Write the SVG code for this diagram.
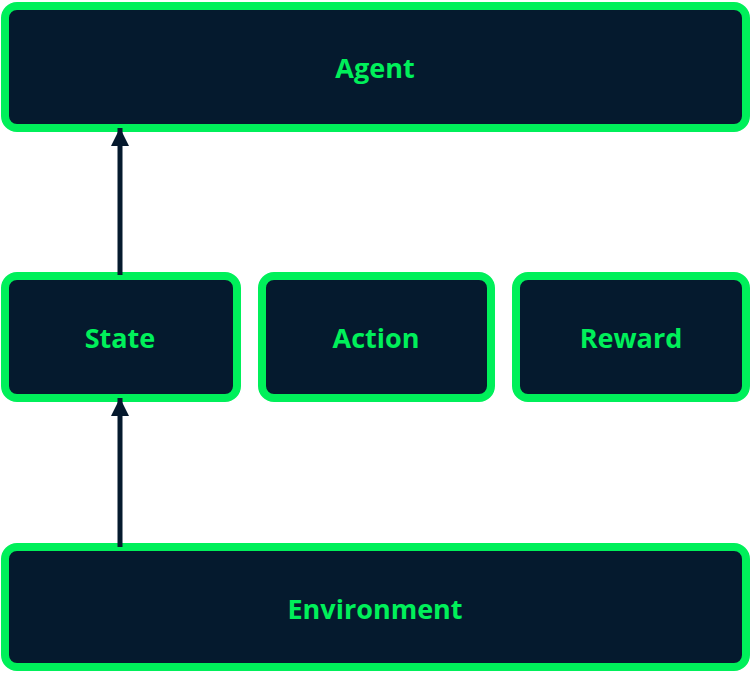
<svg xmlns="http://www.w3.org/2000/svg" width="751" height="673" viewBox="0 0 751 673">
<style>
.n{fill:#051a2e;stroke:#00f05a;stroke-width:8}
.t{fill:#00f05a;font-family:"Open Sans",sans-serif;font-weight:bold;font-size:27px;text-anchor:middle;dominant-baseline:central}
.c{stroke:#051a2e;stroke-width:5;fill:none}
</style>
<defs><marker id="a" markerUnits="userSpaceOnUse" markerWidth="20" markerHeight="20" refX="18" refY="9" orient="auto"><path d="M0,0L18,9L0,18Z" fill="#051a2e"/></marker></defs>
<g id="agent"><rect class="n" x="5" y="6" width="741" height="122" rx="12"/><text class="t" x="375" y="67">Agent</text></g>
<g id="state"><rect class="n" x="5" y="276" width="232" height="122" rx="12"/><text class="t" x="120" y="337">State</text></g>
<g id="action"><rect class="n" x="262" y="276" width="229" height="122" rx="12"/><text class="t" x="376" y="337">Action</text></g>
<g id="reward"><rect class="n" x="516" y="276" width="230" height="122" rx="12"/><text class="t" x="631" y="337">Reward</text></g>
<g id="environment"><rect class="n" x="5" y="547" width="741" height="120" rx="12"/><text class="t" x="375" y="608">Environment</text></g>
<g id="connectors">
<line class="c" x1="120" y1="275" x2="120" y2="128" marker-end="url(#a)"/>
<line class="c" x1="120" y1="547" x2="120" y2="398" marker-end="url(#a)"/>
</g>
</svg>
